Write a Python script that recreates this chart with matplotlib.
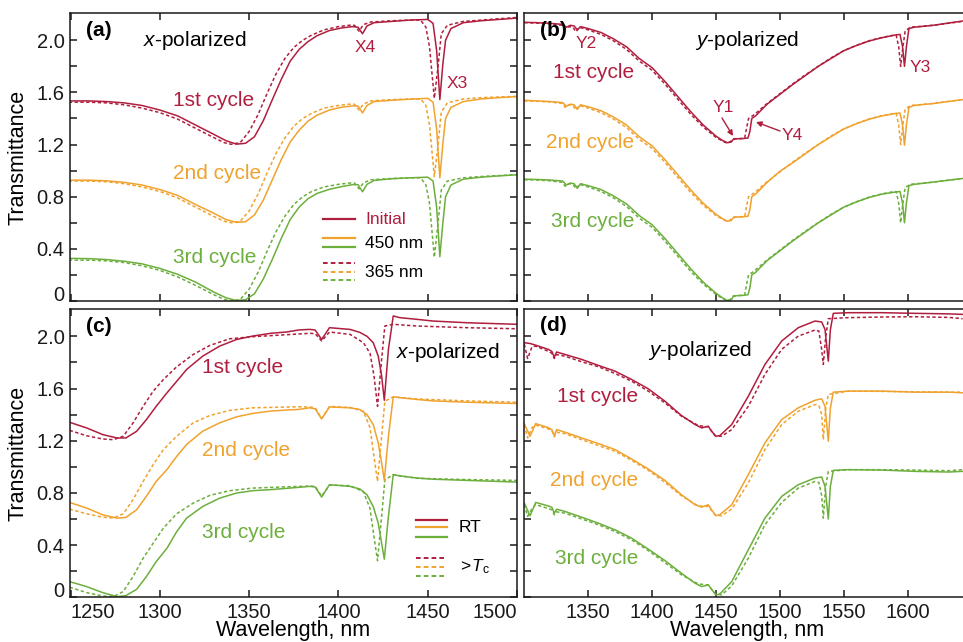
import matplotlib
matplotlib.use("Agg")
import matplotlib.pyplot as plt

plt.rcParams['font.family'] = ['Liberation Sans', 'DejaVu Sans']
plt.rcParams['mathtext.fontset'] = 'custom'
plt.rcParams['mathtext.rm'] = 'Liberation Sans'
plt.rcParams['mathtext.it'] = 'Liberation Sans:italic'

# ---------------- data ----------------
# Panel (a): x-polarized, Initial (solid) vs 365 nm (dotted)
wl_a_solid = [1249, 1260, 1270, 1280, 1290, 1300, 1310, 1320, 1330, 1337, 1343, 1348, 1353, 1358,
              1363, 1368, 1373, 1378, 1383, 1388, 1395, 1402, 1408, 1411, 1413.5, 1416, 1420, 1430,
              1440, 1450, 1453, 1455, 1456.8, 1458.5, 1460, 1463, 1470, 1480, 1490, 1500]
a_c1_solid = [1.535, 1.535, 1.53, 1.52, 1.50, 1.465, 1.42, 1.35, 1.28, 1.23, 1.203, 1.21, 1.26, 1.385,
              1.545, 1.70, 1.84, 1.93, 1.99, 2.035, 2.075, 2.095, 2.105, 2.10, 2.05, 2.11, 2.135, 2.145,
              2.155, 2.16, 2.13, 1.92, 1.545, 1.82, 2.0, 2.09, 2.135, 2.15, 2.16, 2.17]
a_c2_solid = [0.927, 0.927, 0.922, 0.91, 0.89, 0.855, 0.81, 0.74, 0.675, 0.625, 0.603, 0.608, 0.66, 0.775,
              0.93, 1.085, 1.22, 1.31, 1.38, 1.425, 1.465, 1.487, 1.497, 1.495, 1.443, 1.50, 1.53, 1.54,
              1.548, 1.555, 1.525, 1.32, 0.945, 1.21, 1.40, 1.485, 1.53, 1.55, 1.56, 1.568]
a_c3_solid = [0.327, 0.325, 0.318, 0.305, 0.285, 0.25, 0.205, 0.145, 0.07, 0.025, 0.003, 0.01, 0.055, 0.17,
              0.32, 0.48, 0.625, 0.72, 0.785, 0.825, 0.857, 0.878, 0.893, 0.892, 0.838, 0.895, 0.925, 0.938,
              0.945, 0.95, 0.92, 0.72, 0.34, 0.60, 0.80, 0.89, 0.935, 0.95, 0.96, 0.968]
wl_a_dot = [1249, 1260, 1270, 1280, 1290, 1300, 1310, 1320, 1330, 1336, 1340, 1345, 1350, 1355,
            1360, 1365, 1370, 1375, 1380, 1385, 1392, 1400, 1406, 1409, 1411.5, 1414, 1418, 1430,
            1440, 1446, 1449, 1451, 1453.7, 1455.8, 1457.6, 1461, 1470, 1480, 1490, 1500]
a_c1_dot = [1.525, 1.525, 1.52, 1.505, 1.48, 1.445, 1.395, 1.325, 1.255, 1.215, 1.202, 1.215, 1.30, 1.43,
            1.59, 1.74, 1.86, 1.945, 2.0, 2.04, 2.08, 2.105, 2.115, 2.115, 2.07, 2.12, 2.14, 2.15,
            2.155, 2.155, 2.10, 1.95, 1.555, 1.80, 2.05, 2.115, 2.145, 2.155, 2.165, 2.175]
a_c2_dot = [0.92, 0.92, 0.915, 0.90, 0.875, 0.84, 0.79, 0.72, 0.65, 0.612, 0.60, 0.612, 0.69, 0.82,
            0.98, 1.13, 1.25, 1.34, 1.40, 1.44, 1.48, 1.50, 1.51, 1.51, 1.465, 1.51, 1.535, 1.545,
            1.55, 1.55, 1.50, 1.35, 0.955, 1.20, 1.45, 1.52, 1.55, 1.56, 1.565, 1.57]
a_c3_dot = [0.314, 0.313, 0.308, 0.295, 0.27, 0.235, 0.185, 0.12, 0.05, 0.012, 0.0, 0.012, 0.09, 0.22,
            0.38, 0.53, 0.65, 0.74, 0.80, 0.84, 0.875, 0.895, 0.905, 0.905, 0.86, 0.905, 0.93, 0.94,
            0.945, 0.945, 0.89, 0.75, 0.335, 0.60, 0.85, 0.92, 0.945, 0.955, 0.962, 0.97]

# Panel (b): y-polarized
wl_b_solid = [1300, 1310, 1320, 1330, 1333, 1336, 1339, 1341.5, 1344, 1350, 1360, 1370, 1380, 1390,
              1400, 1410, 1420, 1430, 1440, 1450, 1455, 1459, 1462, 1464, 1470, 1475, 1476.5, 1478,
              1481, 1490, 1500, 1510, 1520, 1530, 1540, 1550, 1560, 1570, 1580, 1590, 1594, 1596,
              1597.5, 1599, 1601, 1605, 1620, 1643]
b_c1_solid = [2.138, 2.135, 2.13, 2.122, 2.10, 2.115, 2.11, 2.08, 2.105, 2.09, 2.06, 2.01, 1.95, 1.86,
              1.79, 1.685, 1.57, 1.455, 1.35, 1.265, 1.232, 1.214, 1.22, 1.245, 1.245, 1.25, 1.30, 1.40,
              1.42, 1.51, 1.585, 1.66, 1.73, 1.80, 1.86, 1.92, 1.96, 1.995, 2.02, 2.04, 2.045, 1.95,
              1.80, 1.95, 2.09, 2.10, 2.115, 2.148]
b_c2_solid = [1.54, 1.535, 1.53, 1.522, 1.494, 1.51, 1.505, 1.47, 1.505, 1.49, 1.46, 1.41, 1.35, 1.26,
              1.19, 1.085, 0.97, 0.855, 0.75, 0.665, 0.632, 0.612, 0.618, 0.645, 0.645, 0.65, 0.70, 0.80,
              0.82, 0.91, 0.995, 1.06, 1.13, 1.20, 1.26, 1.32, 1.36, 1.395, 1.42, 1.438, 1.442, 1.35,
              1.195, 1.35, 1.485, 1.50, 1.515, 1.545]
b_c3_solid = [0.935, 0.932, 0.928, 0.92, 0.89, 0.905, 0.90, 0.865, 0.90, 0.885, 0.855, 0.805, 0.745, 0.655,
              0.585, 0.48, 0.365, 0.25, 0.145, 0.06, 0.025, 0.003, 0.01, 0.04, 0.042, 0.048, 0.10, 0.20,
              0.22, 0.31, 0.385, 0.46, 0.53, 0.60, 0.66, 0.72, 0.76, 0.795, 0.82, 0.835, 0.84, 0.75,
              0.60, 0.75, 0.885, 0.895, 0.912, 0.94]
wl_b_dot = [1300, 1310, 1320, 1330, 1332, 1335, 1338, 1340.5, 1343, 1350, 1360, 1370, 1380, 1390,
            1400, 1410, 1420, 1430, 1440, 1450, 1455, 1458, 1461, 1463, 1468, 1472.5, 1474, 1475.5,
            1480, 1490, 1500, 1510, 1520, 1530, 1540, 1550, 1560, 1570, 1580, 1588, 1591, 1593,
            1594.5, 1596, 1598, 1602, 1620, 1643]
b_c1_dot = [2.135, 2.132, 2.127, 2.115, 2.085, 2.105, 2.10, 2.065, 2.10, 2.08, 2.045, 1.995, 1.93, 1.84,
            1.77, 1.665, 1.55, 1.435, 1.335, 1.255, 1.228, 1.213, 1.22, 1.24, 1.245, 1.25, 1.33, 1.40,
            1.43, 1.515, 1.59, 1.665, 1.735, 1.80, 1.865, 1.92, 1.962, 1.997, 2.022, 2.037, 2.04, 1.95,
            1.80, 1.93, 2.07, 2.10, 2.115, 2.145]
b_c2_dot = [1.535, 1.532, 1.527, 1.515, 1.485, 1.505, 1.50, 1.465, 1.50, 1.48, 1.445, 1.395, 1.33, 1.24,
            1.17, 1.065, 0.95, 0.835, 0.735, 0.655, 0.628, 0.613, 0.62, 0.64, 0.645, 0.65, 0.73, 0.80,
            0.83, 0.915, 0.99, 1.065, 1.135, 1.20, 1.265, 1.32, 1.362, 1.397, 1.422, 1.437, 1.44, 1.35,
            1.20, 1.33, 1.47, 1.50, 1.515, 1.545]
b_c3_dot = [0.93, 0.928, 0.922, 0.91, 0.88, 0.90, 0.895, 0.86, 0.895, 0.875, 0.84, 0.79, 0.725, 0.635,
            0.565, 0.46, 0.345, 0.23, 0.13, 0.05, 0.02, 0.003, 0.01, 0.035, 0.042, 0.048, 0.13, 0.20,
            0.23, 0.315, 0.39, 0.465, 0.535, 0.60, 0.665, 0.72, 0.762, 0.797, 0.822, 0.837, 0.84, 0.75,
            0.60, 0.73, 0.87, 0.895, 0.912, 0.94]

# Panel (c): x-polarized, RT (solid) vs >Tc (dotted)
wl_c_solid = [1249.5, 1259, 1268, 1276, 1281, 1287, 1292.5, 1298, 1304, 1309.5, 1315, 1324, 1333.5,
              1343, 1352, 1362, 1371, 1378, 1384, 1387, 1390.6, 1395, 1406.5, 1412, 1416, 1419.5,
              1422.3, 1424.2, 1425.7, 1428, 1430.7, 1434.4, 1444, 1453, 1472, 1500]
c_c1_solid = [1.341, 1.298, 1.247, 1.221, 1.221, 1.272, 1.362, 1.464, 1.567, 1.656, 1.746, 1.848, 1.925,
              1.976, 2.002, 2.023, 2.033, 2.049, 2.053, 2.048, 1.976, 2.066, 2.053, 2.03, 2.0, 1.951,
              1.848, 1.695, 1.51, 1.90, 2.156, 2.143, 2.13, 2.117, 2.104, 2.092]
c_c2_solid = [0.727, 0.684, 0.632, 0.607, 0.612, 0.671, 0.774, 0.889, 0.979, 1.081, 1.171, 1.273, 1.337,
              1.383, 1.409, 1.427, 1.435, 1.44, 1.452, 1.444, 1.367, 1.459, 1.452, 1.439, 1.40, 1.324,
              1.183, 1.029, 0.896, 1.234, 1.536, 1.53, 1.516, 1.505, 1.495, 1.485]
c_c3_solid = [0.12, 0.082, 0.036, 0.005, 0.013, 0.061, 0.159, 0.274, 0.376, 0.504, 0.607, 0.696, 0.76,
              0.799, 0.817, 0.825, 0.835, 0.843, 0.85, 0.845, 0.768, 0.863, 0.85, 0.83, 0.786, 0.696,
              0.568, 0.415, 0.292, 0.62, 0.94, 0.93, 0.914, 0.905, 0.896, 0.883]
wl_c_dot = [1249.5, 1259, 1268, 1274, 1279.5, 1285, 1290.7, 1296.3, 1302, 1309.4, 1318.7, 1328, 1339,
            1352, 1362, 1378, 1384, 1387, 1390.6, 1395, 1406.5, 1414, 1417.7, 1419.9, 1421.9, 1424.2,
            1426, 1430.7, 1444, 1472, 1500]
c_c1_dot = [1.279, 1.238, 1.213, 1.208, 1.234, 1.336, 1.464, 1.58, 1.669, 1.766, 1.861, 1.93, 1.981,
            1.997, 2.005, 2.018, 2.023, 2.02, 1.964, 2.033, 2.015, 1.951, 1.87, 1.70, 1.464, 1.823,
            2.079, 2.092, 2.079, 2.066, 2.058]
c_c2_dot = [0.676, 0.64, 0.614, 0.607, 0.64, 0.748, 0.889, 1.017, 1.132, 1.234, 1.337, 1.393, 1.432,
            1.452, 1.455, 1.46, 1.458, 1.452, 1.37, 1.462, 1.455, 1.426, 1.30, 1.08, 0.888, 1.234,
            1.503, 1.536, 1.52, 1.505, 1.495]
c_c3_dot = [0.077, 0.036, 0.01, 0.005, 0.044, 0.159, 0.30, 0.415, 0.53, 0.64, 0.722, 0.781, 0.817,
            0.837, 0.842, 0.85, 0.852, 0.85, 0.775, 0.86, 0.855, 0.81, 0.68, 0.466, 0.28, 0.62,
            0.90, 0.94, 0.912, 0.902, 0.896]

# Panel (d): y-polarized, RT vs >Tc
wl_d_solid = [1300, 1304.5, 1308.9, 1318.8, 1321.5, 1323.5, 1325.3, 1331.8, 1344.9, 1358, 1371, 1384,
              1397, 1410, 1423, 1433.6, 1438.8, 1444, 1446.6, 1450, 1453, 1462.3, 1475.3, 1488.3,
              1501.4, 1514.4, 1527.5, 1532.7, 1535.3, 1537.9, 1539.5, 1541.8, 1553.5, 1580, 1606,
              1632, 1643]
d_c1_solid = [1.951, 1.945, 1.932, 1.90, 1.885, 1.84, 1.88, 1.861, 1.823, 1.777, 1.733, 1.669, 1.598,
              1.503, 1.393, 1.324, 1.298, 1.311, 1.272, 1.234, 1.239, 1.324, 1.541, 1.784, 1.964, 2.066,
              2.117, 2.11, 2.053, 1.81, 2.05, 2.176, 2.181, 2.181, 2.176, 2.172, 2.168]
d_c2_solid = [1.33, 1.234, 1.331, 1.30, 1.285, 1.239, 1.285, 1.265, 1.221, 1.178, 1.132, 1.06, 0.983,
              0.896, 0.786, 0.709, 0.691, 0.709, 0.67, 0.625, 0.633, 0.709, 0.94, 1.183, 1.362, 1.452,
              1.51, 1.521, 1.464, 1.196, 1.45, 1.572, 1.58, 1.58, 1.572, 1.572, 1.567]
d_c3_solid = [0.722, 0.625, 0.727, 0.70, 0.69, 0.645, 0.675, 0.658, 0.614, 0.568, 0.517, 0.453, 0.369,
              0.282, 0.184, 0.108, 0.082, 0.095, 0.06, 0.018, 0.025, 0.12, 0.364, 0.607, 0.773, 0.863,
              0.914, 0.922, 0.85, 0.60, 0.85, 0.973, 0.978, 0.975, 0.965, 0.96, 0.965]
wl_d_dot = [1300, 1302.6, 1306, 1308.9, 1318.8, 1321.5, 1323.5, 1325.3, 1331.8, 1344.9, 1358, 1371,
            1384, 1397, 1410, 1423, 1436.2, 1444, 1449.2, 1454.4, 1462.3, 1475.3, 1488.3, 1501.4,
            1514.4, 1527.5, 1530.5, 1532.7, 1534, 1535.8, 1537.9, 1553.5, 1580, 1606, 1632, 1643]
d_c1_dot = [1.94, 1.83, 1.92, 1.925, 1.885, 1.87, 1.83, 1.86, 1.848, 1.805, 1.767, 1.715, 1.656, 1.58,
            1.49, 1.388, 1.316, 1.306, 1.239, 1.234, 1.285, 1.464, 1.708, 1.90, 2.002, 2.048, 2.04,
            1.90, 1.784, 1.99, 2.135, 2.143, 2.148, 2.15, 2.145, 2.135]
d_c2_dot = [1.32, 1.221, 1.30, 1.32, 1.29, 1.28, 1.23, 1.265, 1.254, 1.208, 1.163, 1.119, 1.05, 0.973,
            0.881, 0.778, 0.70, 0.696, 0.632, 0.625, 0.676, 0.876, 1.132, 1.324, 1.426, 1.477, 1.47,
            1.40, 1.208, 1.44, 1.554, 1.58, 1.578, 1.575, 1.572, 1.572]
d_c3_dot = [0.71, 0.62, 0.68, 0.71, 0.68, 0.67, 0.632, 0.655, 0.645, 0.60, 0.556, 0.504, 0.44, 0.358,
            0.266, 0.172, 0.102, 0.095, 0.028, 0.018, 0.087, 0.30, 0.556, 0.727, 0.837, 0.888, 0.88,
            0.78, 0.607, 0.85, 0.965, 0.978, 0.978, 0.975, 0.97, 0.978]

cycle_labels = ["1st cycle", "2nd cycle", "3rd cycle"]
xticks_left = [1250, 1300, 1350, 1400, 1450, 1500]
xticks_right = [1350, 1400, 1450, 1500, 1550, 1600]
yticks = [0, 0.2, 0.4, 0.6, 0.8, 1.0, 1.2, 1.4, 1.6, 1.8, 2.0]
ytick_labels = ["0", "", "0.4", "", "0.8", "", "1.2", "", "1.6", "", "2.0"]

# ---------------- style ----------------
RED, ORANGE, GREEN = "#B01E3E", "#F0A22E", "#6CAF3C"
colors = [RED, ORANGE, GREEN]
LW = 1.1
DOT = (0, (2.2, 1.6))
W, H = 963, 642

fig = plt.figure(figsize=(W / 100, H / 100), dpi=100)


def box(l, t, r, b):
    return [l / W, 1 - b / H, (r - l) / W, (b - t) / H]


axA = fig.add_axes(box(70, 13.3, 517, 301))
axB = fig.add_axes(box(524.3, 13.3, 963, 301))
axC = fig.add_axes(box(70, 309.3, 517, 597.3))
axD = fig.add_axes(box(524.3, 309.3, 963, 597.3))

panels = [
    (axA, wl_a_solid, [a_c1_solid, a_c2_solid, a_c3_solid], wl_a_dot, [a_c1_dot, a_c2_dot, a_c3_dot]),
    (axB, wl_b_solid, [b_c1_solid, b_c2_solid, b_c3_solid], wl_b_dot, [b_c1_dot, b_c2_dot, b_c3_dot]),
    (axC, wl_c_solid, [c_c1_solid, c_c2_solid, c_c3_solid], wl_c_dot, [c_c1_dot, c_c2_dot, c_c3_dot]),
    (axD, wl_d_solid, [d_c1_solid, d_c2_solid, d_c3_solid], wl_d_dot, [d_c1_dot, d_c2_dot, d_c3_dot]),
]
for ax, wls, ss, wld, ds in panels:
    for c, y in zip(colors, ds):
        ax.plot(wld, y, color=c, lw=LW, ls=DOT)
    for c, y in zip(colors, ss):
        ax.plot(wls, y, color=c, lw=LW)
    ax.set_ylim(0, 2.207)
    ax.set_yticks(yticks)
    ax.tick_params(direction="in", length=5, width=1.1, labelsize=14.5, top=True,
                   pad=4, colors="#1a1a1a")
    for sp in ax.spines.values():
        sp.set_linewidth(1.1)
        sp.set_color("#1a1a1a")

for ax in (axA, axC):
    ax.set_xlim(1249.7, 1500)
    ax.set_xticks(xticks_left)
    ax.tick_params(right=True)
    ax.set_yticklabels(ytick_labels)
    ax.set_ylabel("Transmittance", fontsize=15.5, labelpad=6)
    lab0 = ax.get_yticklabels()[0]
    lab0.set_verticalalignment("baseline")
for ax in (axB, axD):
    ax.set_xlim(1300, 1643.3)
    ax.set_xticks(xticks_right)
    ax.spines["right"].set_visible(False)
    ax.tick_params(right=False, labelleft=False)
axA.tick_params(labelbottom=False)
axB.tick_params(labelbottom=False)
axC.set_xticklabels([str(v) for v in xticks_left])
labs = axC.get_xticklabels()
labs[0].set_horizontalalignment("left")
labs[-1].set_horizontalalignment("right")
axD.set_xticklabels([str(v) for v in xticks_right])


def T(px, py, s, **kw):
    kw.setdefault("va", "center")
    kw.setdefault("fontsize", 15)
    fig.text(px / W, 1 - py / H, s, **kw)


# x axis labels (kept just inside the bottom edge)
T(293.5, 641, "Wavelength, nm", ha="center", va="bottom", fontsize=15.5)
T(747.5, 641, "Wavelength, nm", ha="center", va="bottom", fontsize=15.5)

# panel letters
T(86, 31, "(a)", fontweight="bold")
T(540, 30, "(b)", fontweight="bold")
T(86, 327, "(c)", fontweight="bold")
T(540, 326, "(d)", fontweight="bold")
# polarization
T(143, 41, "$x$-polarized")
T(695, 41, "$y$-polarized")
T(396, 353, "$x$-polarized")
T(648, 351, "$y$-polarized")
# cycle labels
for lab, c, py in zip(cycle_labels, colors, [100, 174, 258]):
    T(173, py, lab, color=c)
for lab, c, py in zip(cycle_labels, colors, [72, 142, 222]):
    T(634, py, lab, color=c, ha="right")
for lab, c, py in zip(cycle_labels, colors, [368, 451, 532]):
    T(202, py, lab, color=c)
for lab, c, py in zip(cycle_labels, colors, [397, 481, 558]):
    T(638, py, lab, color=c, ha="right")
# feature labels
T(355, 47, "X4", color=RED, fontsize=12.5)
T(447, 84, "X3", color=RED, fontsize=12.5)
T(576, 44, "Y2", color=RED, fontsize=12.5)
T(713, 108, "Y1", color=RED, fontsize=12.5)
T(782, 135, "Y4", color=RED, fontsize=12.5)
T(910, 68, "Y3", color=RED, fontsize=12.5)
arrow = dict(arrowstyle="-|>", color=RED, lw=1.0, mutation_scale=8, shrinkA=0, shrinkB=0)
axB.annotate("", xy=(733, H - 136), xycoords="figure pixels",
             xytext=(722, H - 118), textcoords="figure pixels", arrowprops=arrow)
axB.annotate("", xy=(756, H - 122), xycoords="figure pixels",
             xytext=(780, H - 131), textcoords="figure pixels", arrowprops=arrow)


# legends (drawn as short segments in figure pixels)
def seg(x0, x1, py, color, dotted=False):
    fig.add_artist(plt.Line2D([x0 / W, x1 / W], [1 - py / H, 1 - py / H], color=color,
                              lw=1.6 if not dotted else 1.4,
                              ls=(0, (2.4, 1.6)) if dotted else "-"))


seg(323, 355, 219, RED)
seg(323, 355, 237.7, ORANGE)
seg(323, 355, 247.3, GREEN)
seg(323, 355, 263.3, RED, True)
seg(323, 355, 271.7, ORANGE, True)
seg(323, 355, 280, GREEN, True)
T(365, 219, "Initial", color=RED, fontsize=12.5)
T(365, 243, "450 nm", fontsize=12.5)
T(365, 272, "365 nm", fontsize=12.5)

seg(416, 447, 520, RED)
seg(416, 447, 527.3, ORANGE)
seg(416, 447, 536.7, GREEN)
seg(416, 447, 558.3, RED, True)
seg(416, 447, 567.3, ORANGE, True)
seg(416, 447, 576, GREEN, True)
T(459, 528, "RT", fontsize=12.5)
T(458, 567, r"$>\!T_{\mathrm{c}}$", fontsize=12.5)

fig.savefig("out.png", dpi=100)
